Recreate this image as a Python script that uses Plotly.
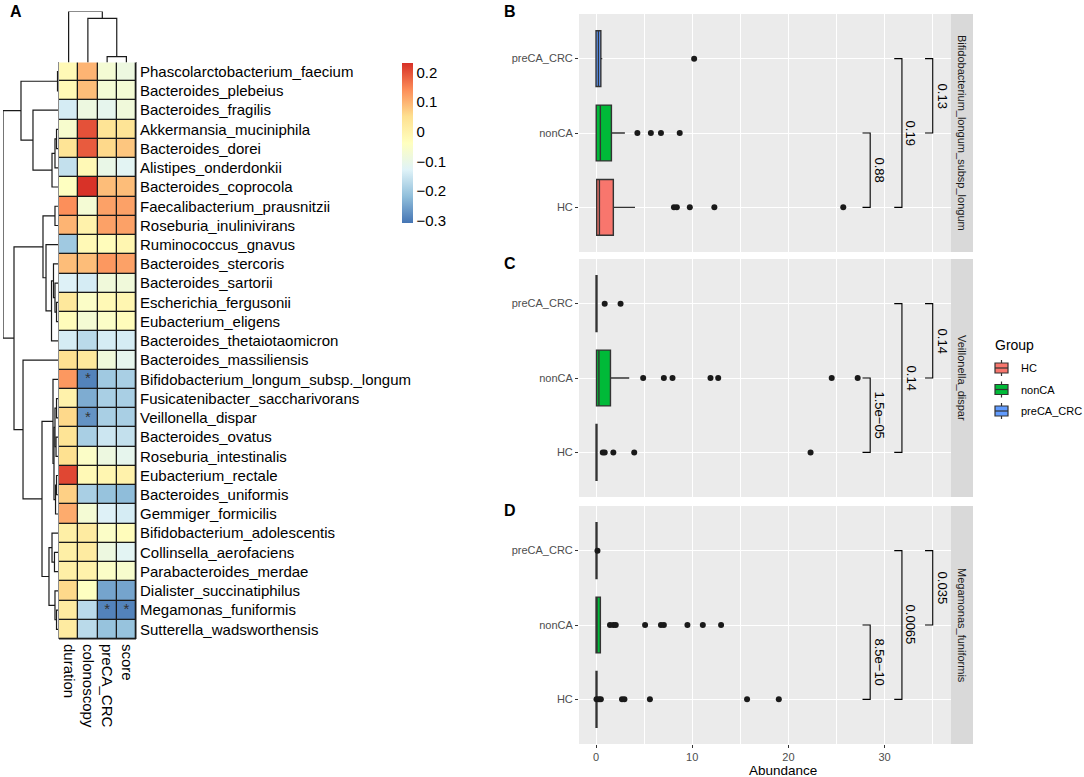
import plotly.graph_objects as go

W, H = 1084, 777
FONT = "Liberation Sans, Arial, sans-serif"

# ---- panel A: correlation heatmap ----
species = [
    "Phascolarctobacterium_faecium", "Bacteroides_plebeius", "Bacteroides_fragilis",
    "Akkermansia_muciniphila", "Bacteroides_dorei", "Alistipes_onderdonkii",
    "Bacteroides_coprocola", "Faecalibacterium_prausnitzii", "Roseburia_inulinivirans",
    "Ruminococcus_gnavus", "Bacteroides_stercoris", "Bacteroides_sartorii",
    "Escherichia_fergusonii", "Eubacterium_eligens", "Bacteroides_thetaiotaomicron",
    "Bacteroides_massiliensis", "Bifidobacterium_longum_subsp._longum",
    "Fusicatenibacter_saccharivorans", "Veillonella_dispar", "Bacteroides_ovatus",
    "Roseburia_intestinalis", "Eubacterium_rectale", "Bacteroides_uniformis",
    "Gemmiger_formicilis", "Bifidobacterium_adolescentis", "Collinsella_aerofaciens",
    "Parabacteroides_merdae", "Dialister_succinatiphilus", "Megamonas_funiformis",
    "Sutterella_wadsworthensis",
]
traits = ["duration", "colonoscopy", "preCA_CRC", "score"]

corr = [
    [-0.02, 0.10, -0.07, -0.09],
    [-0.02, 0.09, -0.07, -0.07],
    [-0.14, -0.09, -0.11, -0.08],
    [-0.06, 0.20, 0.04, 0.04],
    [0.04, 0.19, 0.06, 0.08],
    [-0.16, -0.02, -0.10, -0.12],
    [-0.04, 0.23, 0.09, 0.09],
    [0.14, -0.07, 0.12, 0.12],
    [0.10, 0.00, 0.12, 0.12],
    [-0.20, -0.02, -0.03, -0.01],
    [0.09, 0.09, 0.13, 0.12],
    [-0.13, -0.14, -0.08, -0.08],
    [0.03, -0.05, -0.02, -0.01],
    [-0.03, -0.07, -0.05, -0.03],
    [-0.14, -0.17, -0.14, -0.14],
    [0.05, 0.03, -0.08, -0.11],
    [0.13, -0.29, -0.20, -0.19],
    [0.00, -0.24, -0.19, -0.19],
    [0.06, -0.27, -0.19, -0.19],
    [0.04, -0.19, -0.15, -0.16],
    [0.05, -0.05, -0.09, -0.11],
    [0.21, -0.02, -0.01, 0.00],
    [0.07, -0.19, -0.21, -0.22],
    [0.11, -0.07, -0.13, -0.14],
    [0.01, 0.02, -0.05, -0.03],
    [0.01, 0.02, -0.09, -0.12],
    [0.01, 0.00, -0.05, -0.06],
    [0.06, -0.04, -0.25, -0.25],
    [0.02, -0.17, -0.29, -0.29],
    [0.02, -0.17, -0.21, -0.21],
]
star_rows = [16, 18, 28, 28]
star_cols = [1, 1, 2, 3]

# hclust style merges: (left, right, height); leaves first, new nodes numbered after them
row_merges = [
    (0, 1, 0.009), (3, 4, 0.027), (31, 5, 0.055), (32, 6, 0.109), (2, 33, 0.455),
    (30, 34, 0.673), (7, 8, 0.055), (12, 13, 0.027), (11, 37, 0.055), (10, 38, 0.082),
    (39, 14, 0.118), (9, 40, 0.218), (36, 41, 0.273), (17, 18, 0.027), (19, 20, 0.036),
    (43, 44, 0.055), (21, 22, 0.027), (46, 23, 0.045), (45, 47, 0.073), (16, 48, 0.091),
    (25, 26, 0.064), (24, 50, 0.109), (28, 29, 0.027), (27, 52, 0.055), (51, 53, 0.164),
    (49, 54, 0.291), (15, 55, 0.636), (42, 56, 0.8), (35, 57, 1.0),
]
col_merges = [(2, 3, 0.114), (1, 4, 0.867), (0, 5, 1.0)]

# ---- panels B-D: abundance boxplots ----
groups = ["HC", "nonCA", "preCA_CRC"]
group_colors = ["#F8766D", "#00BA38", "#619CFF"]
panel_taxa = ["Bifidobacterium_longum_subsp_longum", "Veillonella_dispar", "Megamonas_funiformis"]
panel_letters = ["B", "C", "D"]

# per panel, per group: q1, median, q3, lower whisker, upper whisker
box_stats = [
    {"HC": (0.07, 0.35, 1.8, 0.0, 4.05), "nonCA": (0.02, 0.45, 1.6, 0.0, 3.0),
     "preCA_CRC": (0.0, 0.25, 0.5, 0.0, 0.65)},
    {"HC": (0.0, 0.0, 0.1, 0.0, 0.1), "nonCA": (0.05, 0.3, 1.5, 0.0, 3.45),
     "preCA_CRC": (0.0, 0.0, 0.1, 0.0, 0.1)},
    {"HC": (0.0, 0.0, 0.1, 0.0, 0.1), "nonCA": (0.0, 0.05, 0.45, 0.0, 0.45),
     "preCA_CRC": (0.0, 0.0, 0.1, 0.0, 0.1)},
]
outliers = [
    {"HC": [8.1, 8.4, 9.75, 12.3, 25.7], "nonCA": [4.3, 5.7, 6.75, 8.7],
     "preCA_CRC": [10.2]},
    {"HC": [0.7, 0.9, 1.8, 3.97, 22.3], "nonCA": [4.9, 7.05, 7.95, 11.9, 12.7, 24.5, 27.2],
     "preCA_CRC": [0.9, 2.55]},
    {"HC": [0.05, 0.3, 0.5, 2.7, 2.95, 5.6, 15.7, 19.0],
     "nonCA": [1.45, 1.8, 2.05, 5.1, 6.75, 7.05, 9.5, 11.1, 13.0], "preCA_CRC": [0.15]},
]
# comparisons: (group a, group b, bracket position, p label)
comparisons = [
    [("nonCA", "preCA_CRC", 35.0, "0.13"), ("HC", "preCA_CRC", 31.8, "0.19"),
     ("HC", "nonCA", 28.5, "0.88")],
    [("nonCA", "preCA_CRC", 35.0, "0.14"), ("HC", "preCA_CRC", 31.8, "0.14"),
     ("HC", "nonCA", 28.5, "1.5e\u221205")],
    [("nonCA", "preCA_CRC", 35.0, "0.035"), ("HC", "preCA_CRC", 31.8, "0.0065"),
     ("HC", "nonCA", 28.5, "8.5e\u221210")],
]
tip_len = 0.8
x_range = [-1.77, 36.9]

rdylbu = ["#4575B4", "#91BFDB", "#E0F3F8", "#FFFFBF", "#FEE090", "#FC8D59", "#D73027"]
zmin, zmax = -0.307, 0.232


def px_x(a, b):
    return [a / W, b / W]


def px_y(top, bottom):
    return [1 - bottom / H, 1 - top / H]


def dendro(merges, n):
    pos = {i: float(i) for i in range(n)}
    hgt = {i: 0.0 for i in range(n)}
    p, h = [], []
    for k, (a, b, hh) in enumerate(merges):
        p += [pos[a], pos[a], pos[b], pos[b], None]
        h += [hgt[a], hh, hh, hgt[b], None]
        pos[n + k] = (pos[a] + pos[b]) / 2
        hgt[n + k] = hh
    return p, h


def note(x, y, text, size, color="black", angle=0, xanchor="center", xshift=0):
    return dict(x=x, y=y, xref="paper", yref="paper", text=text, textangle=angle,
                showarrow=False, xanchor=xanchor, yanchor="middle", xshift=xshift,
                font=dict(size=size, color=color, family=FONT))


def prect(x0, x1, top, bottom, **kw):
    return dict(type="rect", xref="paper", yref="paper", x0=x0 / W, x1=x1 / W,
                y0=1 - bottom / H, y1=1 - top / H, **kw)


def pline(x0, y0, x1, y1, color="#333333", width=1.2):
    return dict(type="line", xref="paper", yref="paper", x0=x0 / W, x1=x1 / W,
                y0=1 - y0 / H, y1=1 - y1 / H, line=dict(color=color, width=width))


fig = go.Figure()

# heatmap
fig.add_trace(go.Heatmap(
    z=corr, x=list(range(len(traits))), y=list(range(len(species))),
    zmin=zmin, zmax=zmax,
    colorscale=[[i / 6, c] for i, c in enumerate(rdylbu)],
    xgap=1.3, ygap=1.3, xaxis="x", yaxis="y", hoverinfo="skip",
    colorbar=dict(x=402 / W, xanchor="left", y=1 - 63 / H, yanchor="top",
                  len=160, lenmode="pixels", thickness=11, outlinewidth=0,
                  xpad=0, ypad=0, ticks="",
                  tickvals=[-0.3, -0.2, -0.1, 0, 0.1, 0.2],
                  ticktext=["\u22120.3", "\u22120.2", "\u22120.1", "0", "0.1", "0.2"],
                  tickfont=dict(size=15, color="black", family=FONT)),
))
fig.add_trace(go.Scatter(
    x=star_cols, y=star_rows, mode="text", text=["*"] * len(star_rows),
    textfont=dict(size=15, color="#333333", family=FONT),
    xaxis="x", yaxis="y", hoverinfo="skip",
))

rp, rh = dendro(row_merges, len(species))
fig.add_trace(go.Scatter(x=rh, y=rp, mode="lines", line=dict(color="#1a1a1a", width=1.2),
                         xaxis="x2", yaxis="y2", hoverinfo="skip"))
cp, ch = dendro(col_merges, len(traits))
fig.add_trace(go.Scatter(x=cp, y=ch, mode="lines", line=dict(color="#1a1a1a", width=1.2),
                         xaxis="x3", yaxis="y3", hoverinfo="skip"))

# boxplot panels
panel_tops = [14, 259, 506]
panel_h = 238
shapes, annotations = [], []
for p in range(3):
    xa, ya = "x%d" % (p + 4), "y%d" % (p + 4)
    for gi, g in enumerate(groups):
        q1, med, q3, lo, hi = box_stats[p][g]
        fig.add_trace(go.Box(
            y=[g], q1=[q1], median=[med], q3=[q3], lowerfence=[lo], upperfence=[hi],
            orientation="h", width=0.75, whiskerwidth=0, boxpoints=False,
            fillcolor=group_colors[gi], line=dict(color="#333333", width=1.4),
            name=g, xaxis=xa, yaxis=ya, hoverinfo="skip",
        ))
        fig.add_trace(go.Scatter(
            x=outliers[p][g], y=[g] * len(outliers[p][g]), mode="markers",
            marker=dict(size=6, color="#1a1a1a"), xaxis=xa, yaxis=ya, hoverinfo="skip",
        ))
    for ga, gb, pos, lab in comparisons[p]:
        fig.add_trace(go.Scatter(
            x=[pos - tip_len, pos, pos, pos - tip_len], y=[ga, ga, gb, gb],
            mode="lines", line=dict(color="black", width=1.1),
            xaxis=xa, yaxis=ya, hoverinfo="skip",
        ))
        annotations.append(dict(
            x=pos, y=(groups.index(ga) + groups.index(gb)) / 2, xref=xa, yref=ya,
            text=lab, textangle=90, showarrow=False, xanchor="left", yanchor="middle",
            xshift=0, font=dict(size=13, color="black", family=FONT),
        ))
    shapes.append(dict(type="rect", xref=xa + " domain", yref=ya + " domain",
                       x0=0, x1=1, y0=0, y1=1, fillcolor="#EBEBEB", line=dict(width=0),
                       layer="below"))
    top = panel_tops[p]
    shapes.append(prect(951, 973, top, top + panel_h, fillcolor="#D9D9D9",
                        line=dict(width=0), layer="below"))
    annotations.append(note(962 / W, 1 - (top + panel_h / 2) / H, panel_taxa[p], 11,
                            color="#1A1A1A", angle=90))
    annotations.append(note(510 / W, 1 - (12 if p == 0 else top + 4) / H,
                            "<b>%s</b>" % panel_letters[p], 16))

# heatmap cell border background
shapes.append(dict(type="rect", xref="x domain", yref="y domain", x0=0, x1=1, y0=0, y1=1,
                   fillcolor="#1a1a1a", line=dict(color="#1a1a1a", width=1), layer="below"))

# legend drawn by hand (a plotly legend would widen the right margin)
annotations.append(note(993 / W, 1 - 345 / H, "Group", 14, xanchor="left"))
for gi, g in enumerate(groups):
    cy = 368 + gi * 21.5
    shapes.append(pline(1001.5, cy - 8, 1001.5, cy + 8))
    shapes.append(prect(995, 1008, cy - 5, cy + 5, fillcolor=group_colors[gi],
                        line=dict(color="#333333", width=1.2)))
    shapes.append(pline(995, cy, 1008, cy))
    annotations.append(note(1019 / W, 1 - cy / H, g, 11, xanchor="left"))

annotations.append(note(16 / W, 1 - 12 / H, "<b>A</b>", 16))
annotations.append(note(783 / W, 1 - 770 / H, "Abundance", 13.5))

hidden = dict(visible=False)
layout = dict(
    width=W, height=H, autosize=False, margin=dict(l=0, r=0, t=0, b=0),
    paper_bgcolor="white", plot_bgcolor="white", showlegend=False,
    font=dict(family=FONT), boxmode="overlay",
    xaxis=dict(domain=px_x(59, 136), range=[-0.5, 3.5], anchor="y",
               tickvals=list(range(len(traits))), ticktext=traits, tickangle=90,
               showgrid=False, zeroline=False, ticks="", showline=False,
               ticklabelstandoff=4, tickfont=dict(size=15, color="black")),
    yaxis=dict(domain=px_y(62, 639), range=[len(species) - 0.5, -0.5], anchor="x",
               side="right", tickvals=list(range(len(species))), ticktext=species,
               showgrid=False, zeroline=False, ticks="", showline=False,
               ticklabelstandoff=3, tickfont=dict(size=15, color="black")),
    xaxis2=dict(domain=px_x(3, 58), range=[1.0, 0.0], anchor="y2", **hidden),
    yaxis2=dict(domain=px_y(62, 639), range=[len(species) - 0.5, -0.5], anchor="x2", **hidden),
    xaxis3=dict(domain=px_x(59, 136), range=[-0.5, 3.5], anchor="y3", **hidden),
    yaxis3=dict(domain=px_y(11.5, 62.5), range=[0, 1.0], anchor="x3", **hidden),
    shapes=shapes, annotations=annotations,
)
for p in range(3):
    top = panel_tops[p]
    layout["xaxis%d" % (p + 4)] = dict(
        domain=px_x(579, 951), range=x_range, anchor="y%d" % (p + 4),
        tickvals=[0, 10, 20, 30], showticklabels=(p == 2), ticks="outside" if p == 2 else "",
        ticklen=3, tickcolor="#333333", tickwidth=1.1,
        tickfont=dict(size=11, color="#4D4D4D"),
        showgrid=True, gridcolor="white", gridwidth=1.1, zeroline=False, showline=False,
        minor=dict(tickvals=[5, 15, 25, 35], showgrid=True, gridcolor="white", gridwidth=0.5),
    )
    layout["yaxis%d" % (p + 4)] = dict(
        domain=px_y(top, top + panel_h), range=[-0.6, 2.6], anchor="x%d" % (p + 4),
        type="category", categoryorder="array", categoryarray=groups,
        ticks="outside", ticklen=3, tickcolor="#333333", tickwidth=1.1,
        tickfont=dict(size=11, color="#4D4D4D"),
        showgrid=True, gridcolor="white", gridwidth=1.1, zeroline=False, showline=False,
    )

fig.update_layout(**layout)
# the page body has a default 8px margin and may show scrollbars; drop both so the
# figure sits at the window origin at its full size
fig.write_html(
    "out.html",
    config={"displayModeBar": False, "responsive": False},
    post_script="document.body.style.margin='0px';document.body.style.overflow='hidden';",
)
